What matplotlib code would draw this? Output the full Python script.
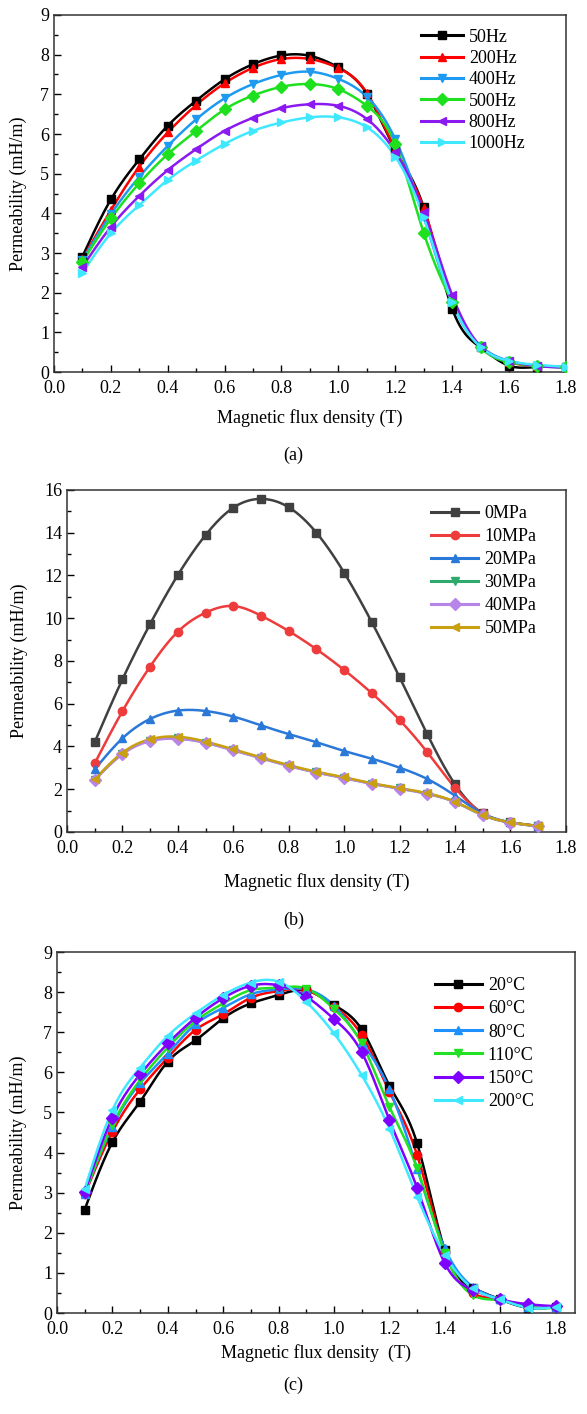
import numpy as np
import matplotlib
matplotlib.use('Agg')
import matplotlib.pyplot as plt
from matplotlib.lines import Line2D
from matplotlib.ticker import MultipleLocator, FormatStrFormatter

plt.rcParams['font.family'] = ['Liberation Serif', 'DejaVu Serif']
plt.rcParams['font.size'] = 13

# (a) frequency
B_a = [0.1, 0.2, 0.3, 0.4, 0.5, 0.6, 0.7, 0.8, 0.9, 1.0, 1.1, 1.2, 1.3, 1.4, 1.5, 1.6, 1.7, 1.8]
freq_labels = ['50Hz', '200Hz', '400Hz', '500Hz', '800Hz', '1000Hz']
mu_50 = [2.91, 4.35, 5.36, 6.21, 6.84, 7.38, 7.76, 7.98, 7.97, 7.68, 7.02, 5.6, 4.15, 1.6, 0.62, 0.16, 0.13, 0.12]
mu_200 = [2.85, 4.08, 5.18, 6.04, 6.73, 7.28, 7.67, 7.89, 7.89, 7.66, 7.04, 5.62, 4.13, 1.82, 0.65, 0.25, 0.15, 0.12]
mu_400 = [2.82, 3.98, 4.92, 5.70, 6.37, 6.90, 7.26, 7.49, 7.57, 7.39, 6.94, 5.87, 3.92, 1.75, 0.65, 0.28, 0.15, 0.12]
mu_500 = [2.78, 3.87, 4.76, 5.49, 6.08, 6.62, 6.97, 7.19, 7.26, 7.13, 6.71, 5.74, 3.51, 1.77, 0.62, 0.25, 0.15, 0.12]
mu_800 = [2.65, 3.66, 4.44, 5.09, 5.62, 6.08, 6.41, 6.65, 6.75, 6.71, 6.38, 5.55, 4.04, 1.94, 0.65, 0.28, 0.15, 0.12]
mu_1000 = [2.50, 3.50, 4.21, 4.84, 5.33, 5.75, 6.08, 6.29, 6.42, 6.42, 6.17, 5.43, 3.90, 1.77, 0.63, 0.28, 0.18, 0.13]

# (b) stress
B_b = [0.1, 0.2, 0.3, 0.4, 0.5, 0.6, 0.7, 0.8, 0.9, 1.0, 1.1, 1.2, 1.3, 1.4, 1.5, 1.6, 1.7]
stress_labels = ['0MPa', '10MPa', '20MPa', '30MPa', '40MPa', '50MPa']
mu_0mpa = [4.20, 7.14, 9.73, 12.02, 13.89, 15.17, 15.58, 15.19, 14.00, 12.13, 9.81, 7.24, 4.57, 2.23, 0.87, 0.45, 0.28]
mu_10mpa = [3.21, 5.65, 7.74, 9.37, 10.26, 10.57, 10.12, 9.40, 8.55, 7.58, 6.49, 5.24, 3.73, 2.07, 0.87, 0.45, 0.28]
mu_20mpa = [2.93, 4.38, 5.29, 5.68, 5.66, 5.40, 4.99, 4.58, 4.20, 3.79, 3.43, 3.01, 2.48, 1.70, 0.87, 0.45, 0.28]
mu_30mpa = [2.44, 3.66, 4.28, 4.38, 4.18, 3.83, 3.46, 3.10, 2.79, 2.53, 2.26, 2.04, 1.79, 1.40, 0.79, 0.44, 0.27]
mu_40mpa = [2.43, 3.64, 4.25, 4.36, 4.17, 3.82, 3.45, 3.09, 2.78, 2.52, 2.25, 2.03, 1.78, 1.40, 0.79, 0.44, 0.26]
mu_50mpa = [2.46, 3.71, 4.34, 4.46, 4.23, 3.87, 3.49, 3.13, 2.82, 2.56, 2.28, 2.06, 1.81, 1.42, 0.80, 0.45, 0.28]

# (c) temperature
B_c = [0.1, 0.2, 0.3, 0.4, 0.5, 0.6, 0.7, 0.8, 0.9, 1.0, 1.1, 1.2, 1.3, 1.4, 1.5, 1.6, 1.7, 1.8]
temp_labels = ['20°C', '60°C', '80°C', '110°C', '150°C', '200°C']
mu_20c = [2.58, 4.26, 5.27, 6.27, 6.80, 7.35, 7.72, 7.93, 8.04, 7.68, 7.07, 5.67, 4.23, 1.57, 0.63, 0.34, 0.13, 0.15]
mu_60c = [2.96, 4.52, 5.58, 6.37, 7.06, 7.45, 7.86, 8.03, 8.05, 7.64, 6.93, 5.52, 3.94, 1.53, 0.49, 0.34, 0.15, 0.15]
mu_80c = [2.98, 4.65, 5.73, 6.47, 7.20, 7.61, 7.95, 8.07, 8.07, 7.66, 6.76, 5.58, 3.60, 1.61, 0.66, 0.34, 0.15, 0.15]
mu_110c = [2.98, 4.69, 5.81, 6.62, 7.28, 7.72, 8.05, 8.11, 8.09, 7.58, 6.72, 5.14, 3.61, 1.49, 0.45, 0.32, 0.15, 0.13]
mu_150c = [3.02, 4.87, 5.95, 6.72, 7.36, 7.85, 8.16, 8.17, 7.89, 7.33, 6.50, 4.81, 3.12, 1.24, 0.58, 0.34, 0.22, 0.17]
mu_200c = [3.09, 5.06, 6.12, 6.91, 7.47, 7.93, 8.24, 8.26, 7.76, 6.97, 5.93, 4.60, 2.90, 1.45, 0.62, 0.34, 0.13, 0.15]


def spline(x, y, n=400):
    # natural cubic spline through the measured points
    x = np.asarray(x, float)
    y = np.asarray(y, float)
    m = len(x)
    h = np.diff(x)
    A = np.zeros((m, m))
    r = np.zeros(m)
    A[0, 0] = A[-1, -1] = 1
    for i in range(1, m - 1):
        A[i, i - 1] = h[i - 1]
        A[i, i] = 2 * (h[i - 1] + h[i])
        A[i, i + 1] = h[i]
        r[i] = 3 * ((y[i + 1] - y[i]) / h[i] - (y[i] - y[i - 1]) / h[i - 1])
    c = np.linalg.solve(A, r)
    b = (y[1:] - y[:-1]) / h - h * (2 * c[:-1] + c[1:]) / 3
    d = (c[1:] - c[:-1]) / (3 * h)
    xs = np.linspace(x[0], x[-1], n)
    idx = np.clip(np.searchsorted(x, xs) - 1, 0, m - 2)
    t = xs - x[idx]
    return xs, y[idx] + b[idx] * t + c[idx] * t ** 2 + d[idx] * t ** 3


def draw(ax, x, series, labels, colors, markers, ms=6):
    handles = []
    for y, lab, col, mk in zip(series, labels, colors, markers):
        xs, ys = spline(x, y)
        ax.plot(xs, ys, color=col, lw=1.8, zorder=2)
        ax.plot(x, y, ls='none', marker=mk, ms=ms, color=col, zorder=3)
        handles.append(Line2D([], [], color=col, lw=2.2, marker=mk, ms=ms, label=lab))
    return handles


def style(ax, ymax, ymaj, ymin, xmax):
    ax.set_xlim(0, xmax)
    ax.set_ylim(0, ymax)
    ax.xaxis.set_major_locator(MultipleLocator(0.2))
    ax.xaxis.set_minor_locator(MultipleLocator(0.1))
    ax.yaxis.set_major_locator(MultipleLocator(ymaj))
    ax.yaxis.set_minor_locator(MultipleLocator(ymin))
    ax.xaxis.set_major_formatter(FormatStrFormatter('%.1f'))
    ax.tick_params(which='both', direction='in', top=False, right=False, labelsize=13)
    ax.tick_params(which='major', length=5, width=1)
    ax.tick_params(axis='x', which='major', pad=6)
    ax.tick_params(which='minor', length=3, width=1)
    for s in ax.spines.values():
        s.set_linewidth(1.1)
        s.set_color('#333333')
    ax.set_ylabel('Permeability (mH/m)', fontsize=13)


fig = plt.figure(figsize=(5.87, 14.14), dpi=100)

# (a)
ax1 = fig.add_axes([0.092, 0.7369, 0.872, 0.2525])
h = draw(ax1, B_a, [mu_50, mu_200, mu_400, mu_500, mu_800, mu_1000], freq_labels,
         ['#000000', '#FF0000', '#1E9BF0', '#1EE01E', '#8A1AF0', '#40E8FF'],
         ['s', '^', 'v', 'D', '<', '>'])
style(ax1, 9, 1, 0.5, 1.8)
ax1.set_xlabel('Magnetic flux density (T)', fontsize=13)
ax1.xaxis.set_label_coords(0.5, -0.104)
ax1.yaxis.set_label_coords(-0.053, 0.5)
ax1.legend(handles=h, loc='upper left', bbox_to_anchor=(0.717, 0.962), frameon=False,
           fontsize=13, handlelength=2.3, handletextpad=0.35, labelspacing=0.24,
           borderpad=0, borderaxespad=0)
fig.text(0.5, 1 - 455 / 1414, '(a)', ha='center', va='center', fontsize=13)

# (b)
ax2 = fig.add_axes([0.1141, 0.4116, 0.8499, 0.2419])
h = draw(ax2, B_b, [mu_0mpa, mu_10mpa, mu_20mpa, mu_30mpa, mu_40mpa, mu_50mpa], stress_labels,
         ['#404040', '#EE3B3B', '#2A78D8', '#2EAA6E', '#B784E8', '#C9A010'],
         ['s', 'o', '^', 'v', 'D', '<'])
style(ax2, 16, 2, 1, 1.8)
ax2.set_xlabel('Magnetic flux density (T)', fontsize=13)
ax2.xaxis.set_label_coords(0.5, -0.12)
ax2.yaxis.set_label_coords(-0.078, 0.5)
ax2.legend(handles=h, loc='upper left', bbox_to_anchor=(0.73, 0.955), frameon=False,
           fontsize=13, handlelength=2.6, handletextpad=0.35, labelspacing=0.33,
           borderpad=0, borderaxespad=0)
fig.text(0.5, 1 - 920 / 1414, '(b)', ha='center', va='center', fontsize=13)

# (c)
ax3 = fig.add_axes([0.0971, 0.0714, 0.8825, 0.2553])
h = draw(ax3, B_c, [mu_20c, mu_60c, mu_80c, mu_110c, mu_150c, mu_200c], temp_labels,
         ['#000000', '#FF0000', '#1E90FF', '#22E022', '#7F00FF', '#40E8FF'],
         ['s', 'o', '^', 'v', 'D', '<'])
style(ax3, 9, 1, 0.5, 1.87)
ax3.set_xlabel('Magnetic flux density  (T)', fontsize=13)
ax3.xaxis.set_label_coords(0.5, -0.085)
ax3.yaxis.set_label_coords(-0.058, 0.5)
ax3.legend(handles=h, loc='upper left', bbox_to_anchor=(0.729, 0.93), frameon=False,
           fontsize=13, handlelength=2.6, handletextpad=0.35, labelspacing=0.34,
           borderpad=0, borderaxespad=0)
fig.text(0.5, 1 - 1385 / 1414, '(c)', ha='center', va='center', fontsize=13)

fig.savefig('out.png', dpi=100)
